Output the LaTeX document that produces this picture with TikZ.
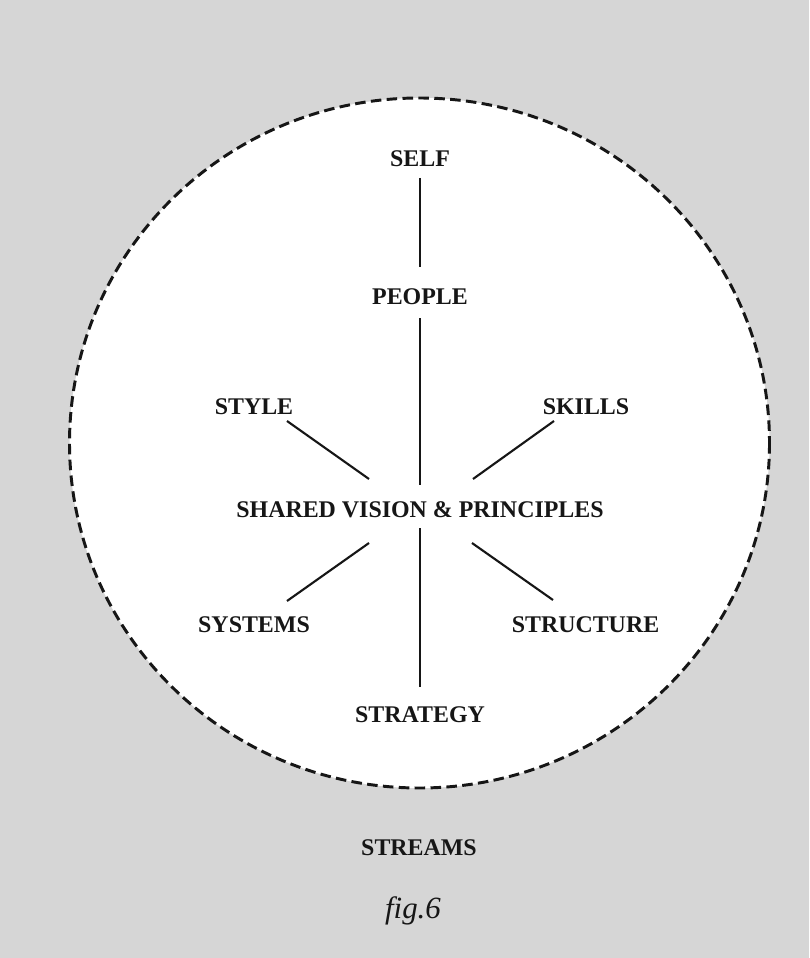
\documentclass[tikz,border=0pt]{standalone}
\usepackage{fontspec}
\setmainfont{Liberation Serif}
\usepackage{xcolor}
\usepackage{tikz}
\usetikzlibrary{positioning}
\definecolor{paper}{RGB}{214,214,214}
\definecolor{ink}{RGB}{22,22,22}

\begin{document}
\begin{tikzpicture}[
    x=0.025cm, y=-0.025cm,
    lbl/.style={inner sep=0pt, text=ink, font=\bfseries\fontsize{17}{20}\selectfont},
    spoke/.style={draw=ink, line width=1.5pt},
    rim/.style={draw=ink, line width=2.1pt, dash pattern=on 7.5pt off 3.8pt}
]
\useasboundingbox (0,0) rectangle (809,958);
\fill[paper] (0,0) rectangle (809,958);
\filldraw[fill=white, rim] (419.5,443) ellipse [x radius=350, y radius=345];

\node[lbl] (hub) at (420,510) {SHARED VISION \& PRINCIPLES};
\node[lbl] (self) at (420,159) {SELF};
\node[lbl] (people) at (420,296.5) {PEOPLE};
\node[lbl] (style) at (254,406.5) {STYLE};
\node[lbl] (skills) at (586,406.5) {SKILLS};
\node[lbl] (systems) at (254,624.5) {SYSTEMS};
\node[lbl] (structure) at (585.5,624.5) {STRUCTURE};
\node[lbl] (strategy) at (420,715) {STRATEGY};

\node[lbl] (streams) at (419,848) {STREAMS};
\node[below=1.0cm of streams, xshift=-0.15cm, inner sep=0pt, text=ink,
      font=\itshape\fontsize{22}{24}\selectfont] (fig) {fig.6};

\draw[spoke] ([shift={(0,19)}]self.center) -- ([shift={(0,-29.5)}]people.center);
\draw[spoke] ([shift={(0,21.5)}]people.center) -- ([shift={(0,-25)}]hub.center);
\draw[spoke] ([shift={(-51,-31)}]hub.center) -- ([shift={(33,14.5)}]style.center);
\draw[spoke] ([shift={(53,-31)}]hub.center) -- ([shift={(-32,14.5)}]skills.center);
\draw[spoke] ([shift={(-51,33)}]hub.center) -- ([shift={(33,-23.5)}]systems.center);
\draw[spoke] ([shift={(52,33)}]hub.center) -- ([shift={(-32.5,-24.5)}]structure.center);
\draw[spoke] ([shift={(0,18)}]hub.center) -- ([shift={(0,-28)}]strategy.center);
\end{tikzpicture}
\end{document}
